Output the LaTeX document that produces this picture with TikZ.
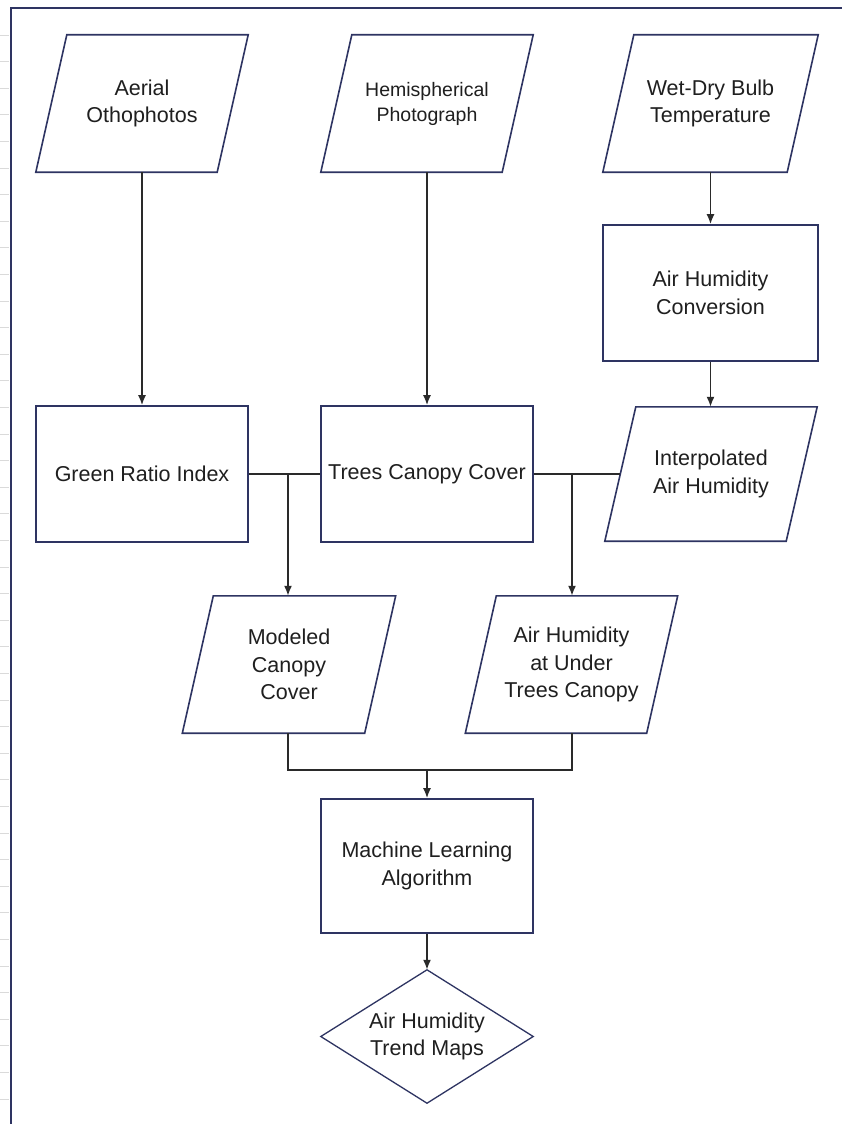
\documentclass[tikz,border=0pt]{standalone}
\usepackage{fontspec}
\setmainfont{Liberation Sans}
\usetikzlibrary{arrows.meta}
\definecolor{navy}{HTML}{2E3462}
\definecolor{conn}{HTML}{2A2A2A}
\definecolor{tickgray}{HTML}{DADADA}
\begin{document}
\begin{tikzpicture}[x=1pt,y=-1pt,
  txt/.style={font=\fontsize{21.5}{27.5}\selectfont, text=black!88, align=center},
  smalltxt/.style={font=\fontsize{19.5}{25}\selectfont, text=black!88, align=center},
  procbox/.style={draw=navy, line width=1.6pt, rectangle, minimum width=212pt, minimum height=136pt, inner sep=0pt, txt},
  iobox/.style={rectangle, minimum width=181pt, minimum height=137pt, inner sep=0pt, txt},
  decbox/.style={rectangle, minimum width=212pt, minimum height=133pt, inner sep=0pt, txt},
  outline/.style={draw=navy, line width=1.6pt, line join=miter},
  link/.style={draw=conn, line width=1.7pt},
  arr/.style={link, -{Latex[length=10pt,width=8pt]}}
]
\useasboundingbox (0,0) rectangle (842,1124);
\fill[white] (0,0) rectangle (842,1124);
% ruler ticks and frame
\foreach \y in {35,61.6,...,1120} \draw[tickgray, line width=0.8pt] (0,\y) -- (9,\y);
\draw[navy, line width=2pt] (10.5,1124) -- (10.5,8) -- (842,8);

% nodes
\node[iobox] (aerial) at (142,103.5) {Aerial\\Othophotos};
\node[iobox, smalltxt] (hemi) at (427,103.5) {Hemispherical\\Photograph};
\node[iobox, minimum width=184pt] (wet) at (710.5,103.5) {Wet-Dry Bulb\\Temperature};
\node[procbox, minimum width=215pt] (conv) at (710.5,293) {Air Humidity\\Conversion};
\node[procbox] (green) at (142,474) {Green Ratio Index};
\node[procbox] (trees) at (427,474) {Trees Canopy Cover};
\node[iobox, minimum height=134pt] (interp) at (711,474) {Interpolated\\Air Humidity};
\node[iobox, minimum width=182pt] (modeled) at (289,664.5) {Modeled\\Canopy\\Cover};
\node[iobox] (under) at (571.5,664.5) {Air Humidity\\at Under\\Trees Canopy};
\node[procbox, minimum height=134pt] (ml) at (427,866) {Machine Learning\\Algorithm};
\node[decbox] (maps) at (427,1036.5) {Air Humidity\\Trend Maps};

% parallelogram and diamond outlines
\foreach \n in {aerial,hemi,wet,interp,modeled,under}
  \draw[outline] ([xshift=15.5pt]\n.north west) -- ([xshift=15.5pt]\n.north east)
     -- ([xshift=-15.5pt]\n.south east) -- ([xshift=-15.5pt]\n.south west) -- cycle;
\draw[draw=navy, line width=1.3pt] (maps.north) -- (maps.east) -- (maps.south) -- (maps.west) -- cycle;

% connectors
\coordinate (j1) at (288,474);
\coordinate (j2) at (572,474);
\coordinate (m) at (427,770);
\draw[arr] (aerial.south) -- (green.north);
\draw[arr] (hemi.south) -- (trees.north);
\draw[arr] (wet.south) -- (wet.south |- conv.north);
\draw[arr] (conv.south) -- (conv.south |- interp.north);
\draw[link] (green.east) -- (trees.west);
\draw[link] (trees.east) -- (interp.west);
\draw[arr] (j1) -- (j1 |- modeled.north);
\draw[arr] (j2) -- (j2 |- under.north);
\draw[link] (j1 |- modeled.south) -- (j1 |- m) -- (j2 |- m) -- (j2 |- under.south);
\draw[arr] (m) -- (ml.north);
\draw[arr] (ml.south) -- (maps.north);
\end{tikzpicture}
\end{document}
